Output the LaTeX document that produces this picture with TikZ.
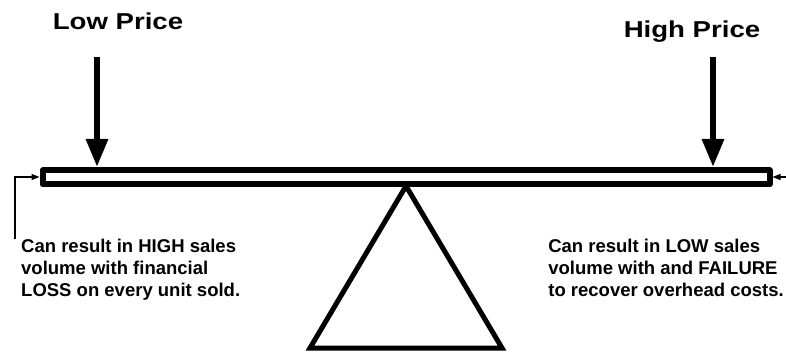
\documentclass[tikz,border=0pt]{standalone}
\usepackage{fontspec}
\setmainfont{Liberation Sans}
\usetikzlibrary{arrows.meta}
\tikzset{
  title/.style={font=\bfseries\fontsize{23}{26}\selectfont, inner sep=0pt, xscale=1.2, transform shape},
  body/.style={font=\bfseries\fontsize{18.5}{22}\selectfont, inner sep=0pt, align=left},
  bigarrow/.style={line width=6pt, -{Triangle[length=28pt,width=21pt]}},
  smallarrow/.style={line width=1.3pt, -{Triangle[length=8pt,width=6pt]}},
  thick6/.style={line width=6pt, line join=round},
}
\begin{document}
\begin{tikzpicture}[x=1pt,y=-1pt]
\useasboundingbox (0,0) rectangle (786,352);
% beam
\draw[thick6] (42.5,170.5) rectangle (769.5,184.5);
\coordinate (bl) at (39.5,177);
\coordinate (br) at (772.5,177);
\coordinate (lowtip) at (97,167);
\coordinate (hightip) at (713,167);
% fulcrum
\draw[line width=5pt, line join=miter] (406,186) -- (502,348) -- (310,348) -- cycle;
% titles
\node[title, anchor=base] (low) at (118,30) {Low Price};
\node[title, anchor=base] (high) at (692,38) {High Price};
\coordinate (lowstart) at (97,57);
\coordinate (highstart) at (713,57);
\draw[bigarrow] (lowstart) -- (lowtip);
\draw[bigarrow] (highstart) -- (hightip);
% small arrows
\coordinate (lcorner) at (15,177);
\coordinate (lbot) at (15,239);
\coordinate (rstart) at (786,177);
\draw[smallarrow] (lbot) -- (lcorner) -- (bl);
\draw[smallarrow] (rstart) -- (br);
% texts
\node[body, anchor=base west] (ltext) at (21,297) {Can result in HIGH sales\\volume with financial\\LOSS on every unit sold.};
\node[body, anchor=base east] (rtext) at (784,297) {Can result in LOW sales\\volume with and FAILURE\\to recover overhead costs.};
\end{tikzpicture}
\end{document}
